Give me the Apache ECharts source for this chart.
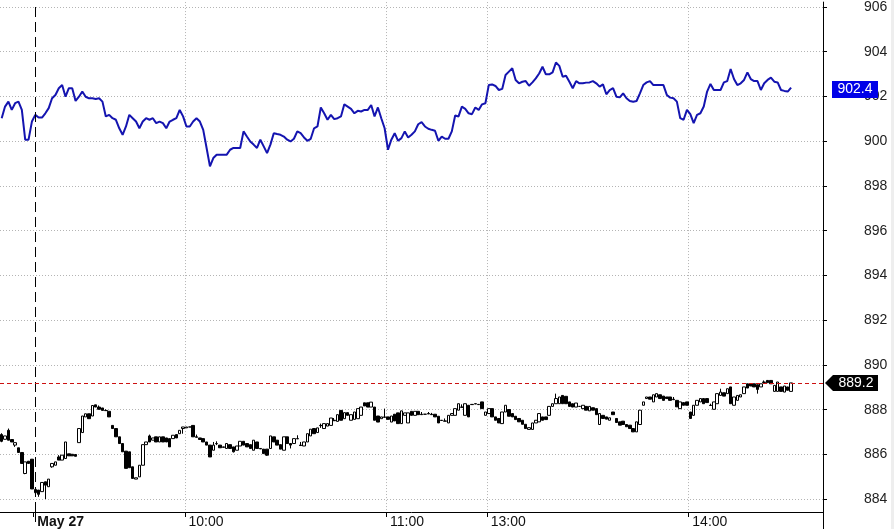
<!DOCTYPE html>
<html><head><meta charset="utf-8">
<script src="https://cdn.jsdelivr.net/npm/echarts@6/dist/echarts.min.js"></script>
<style>html,body{margin:0;padding:0;background:#fff}#c{width:894px;height:529px}</style>
</head><body><div id="c"></div><script>
// ---- data ----
const sessions = [['05-26','15:05','15:15'],['05-27','09:15','11:30'],['05-27','13:00','14:40']];
const tickLabels = {'05-27 09:15':'May 27','05-27 10:00':'10:00','05-27 11:00':'11:00','05-27 13:00':'13:00','05-27 14:00':'14:00'};
const gridTimes = ['05-27 10:00','05-27 11:00','05-27 13:00','05-27 14:00'];
const dayStart = '05-27 09:15';
const yTicks = [884,886,888,890,892,894,896,898,900,902,904,906];

const blueLine = [
901.03,901.55,901.77,901.40,901.70,901.77,901.40,900.07,900.07,900.88,
901.18,901.06,901.06,901.25,901.48,901.92,902.07,902.37,902.51,901.99,
902.37,902.37,901.80,901.99,902.22,901.99,901.92,901.92,901.89,901.92,
901.77,901.11,901.18,901.03,900.96,900.58,900.29,900.66,901.18,901.03,
900.88,900.58,900.88,901.03,900.96,901.03,900.81,900.88,900.81,900.58,
900.88,900.96,901.03,901.40,901.11,900.66,900.66,900.88,901.03,900.88,
900.51,899.70,898.88,899.25,899.40,899.40,899.40,899.40,899.62,899.70,
899.70,899.70,900.44,900.21,899.99,899.85,899.70,900.07,899.77,899.47,
899.85,900.36,900.32,900.29,900.21,900.07,899.99,900.11,900.44,900.36,
900.17,900.02,900.11,900.58,900.66,901.51,901.25,900.96,901.18,900.99,
901.03,901.11,901.65,901.55,901.45,901.25,901.36,901.33,901.40,901.40,
901.62,901.11,901.51,901.03,900.58,899.62,900.07,900.36,900.02,900.14,
900.44,900.17,900.29,900.44,900.76,900.85,900.66,900.56,900.51,900.47,
900.02,900.21,900.11,900.11,900.44,901.15,901.11,901.55,901.45,901.25,
901.21,901.51,901.40,901.65,901.70,902.51,902.54,902.47,902.29,902.34,
902.96,903.11,903.26,902.74,902.59,902.66,902.69,902.48,902.63,902.81,
903.03,903.33,902.99,902.99,903.08,903.52,903.37,902.88,902.93,902.66,
902.37,902.69,902.59,902.59,902.62,902.63,902.69,902.59,902.44,902.54,
902.10,902.29,902.37,901.99,901.96,902.14,901.92,901.80,901.77,901.80,
902.14,902.51,902.63,902.69,902.51,902.51,902.51,902.51,902.07,901.95,
901.92,901.77,901.03,900.96,901.40,901.21,900.81,901.18,901.25,901.55,
902.22,902.56,902.29,902.29,902.29,902.63,902.69,903.23,902.78,902.51,
902.59,902.74,903.08,902.78,902.69,902.69,902.29,902.59,902.74,902.84,
902.66,902.63,902.29,902.25,902.22,902.40
];

// candles: [open, close] or [open, close, low, high]
const candles = [
[886.89,886.59,886.55,886.95],[886.68,886.83],[887.08,886.64,886.64,887.16],[886.67,886.56],[886.42,886.53,886.34,886.53],
[886.30,886.09],[886.09,885.60],[885.15,885.67,885.12,885.67],[885.70,885.60],[885.79,884.46],
[884.29,884.44,884.19,884.44],[884.41,884.22,884.11,884.41],[884.34,884.75],[884.78,884.63,884.01,884.78],[884.56,884.90],
[885.45,885.60,885.41,885.60],[885.52,885.67],[885.89,885.75,885.75,885.97],[885.75,885.97],[885.82,886.56],
[886.03,885.94],[886.01,885.94],[886.00,885.92],[886.53,887.16],[886.98,887.72],
[887.68,887.82],[887.82,887.60],[887.72,888.19],[888.22,888.12],[888.12,888.02,888.02,888.19],
[888.08,887.97],[887.97,887.96,887.96,888.02],[887.93,887.68],[887.30,887.16],[887.16,886.79],
[886.79,886.49],[886.49,886.12],[886.15,885.38],[886.12,885.41],[885.45,884.93],
[884.90,884.96],[885.00,885.52],[885.52,886.44],[886.44,886.56],[886.83,886.56,886.56,886.89],
[886.64,886.74],[886.79,886.56],[886.56,886.79],[886.79,886.56],[886.74,886.56],
[886.71,886.34],[886.71,886.86],[886.89,886.74],[886.93,887.08],[887.16,887.23,886.93,887.23],
[887.19,887.23],[887.23,887.23],[887.30,886.79],[886.79,886.77,886.77,886.89],[886.74,886.67],
[886.71,886.56],[886.56,886.42],[886.42,885.89],[886.19,886.42,886.19,886.56],[886.49,886.48,886.42,886.59],
[886.42,886.30],[886.34,886.32],[886.27,886.49],[886.44,886.27],[886.34,886.12,886.09,886.34],
[886.19,886.38],[886.38,886.59],[886.59,886.42],[886.49,886.34],[886.44,886.27],
[886.19,886.64],[886.56,886.27],[886.27,886.25],[886.24,886.04],[886.24,885.97,885.94,886.24],
[886.27,886.83],[886.79,886.56],[886.64,886.42],[886.44,886.24],[886.19,886.79],
[886.79,886.49],[886.49,886.42,886.27,886.49],[886.49,886.71],[886.71,886.70,886.70,886.86],[886.42,886.40,886.40,886.56],
[886.38,886.56],[886.56,886.93],[886.83,887.13],[887.16,886.93],[886.98,887.19],
[887.30,887.29,887.19,887.38],[887.16,887.38],[887.27,887.38],[887.30,887.63],[887.53,887.51,887.51,887.63],
[887.48,887.78],[887.97,887.53],[887.60,887.87],[887.87,887.75],[887.53,887.78],
[887.57,887.90],[887.60,888.05],[887.75,888.12],[888.31,888.17],[888.31,888.12],
[888.12,888.34],[888.12,887.53],[887.72,887.45],[887.60,887.68],[887.68,887.66,887.66,888.05],
[887.68,887.57],[887.45,887.72],[887.80,887.50],[887.86,887.38],[887.38,887.95],
[887.75,887.86],[887.41,887.86],[887.93,887.75],[887.75,887.93],[887.93,887.78],
[887.80,887.78,887.78,887.90],[887.80,887.80],[887.83,887.81,887.81,887.90],[887.80,887.78,887.78,887.86],[887.80,887.68],
[887.71,887.41],[887.53,887.52],[887.50,887.49,887.49,887.61],[887.41,887.75],[887.75,887.83],
[887.75,888.05],[887.98,888.27],[888.12,888.11,888.11,888.24],[887.75,888.27],[888.20,887.68],
[888.24,888.23],[888.27,888.26],[888.24,888.23],[888.35,888.05],[887.75,887.90],
[887.83,888.05],[888.05,887.68],[887.68,887.53],[887.61,887.41],[887.38,887.90],
[887.90,888.20],[888.01,887.71],[887.83,887.68],[887.71,887.56],[887.61,887.46],
[887.53,887.35],[887.35,887.16],[887.12,887.20],[887.12,887.41],[887.41,887.53],
[887.46,887.83],[887.68,887.53],[887.68,887.56],[887.75,888.15],[888.15,888.27],
[888.27,888.50,888.27,888.72],[888.27,888.57],[888.64,888.27],[888.60,888.27],[888.35,888.15],
[888.27,888.12],[888.12,888.30],[888.15,888.15],[888.05,888.20],[888.15,887.98],
[887.95,888.15],[888.09,887.98],[888.05,887.78],[887.34,887.83],[887.75,887.61],
[887.68,887.58],[887.53,887.64],[887.90,887.78],[887.61,887.43],[887.46,887.31],
[887.49,887.34],[887.34,887.24],[887.31,887.16],[887.16,887.01],[887.01,887.46],
[887.34,887.98],[888.20,888.35],[888.50,888.57],[888.57,888.47],[888.35,888.67],
[888.57,888.72],[888.67,888.50],[888.61,888.42],[888.57,888.50],[888.57,888.42],
[888.47,888.45,888.45,888.57],[888.42,888.13],[888.05,888.35],[888.32,888.20],[888.35,888.20],
[887.90,887.61],[887.75,888.20],[888.20,888.42],[888.35,888.50],[888.50,888.27],
[888.50,888.32],[888.20,888.19,888.19,888.27],[888.02,888.35],[888.27,888.72],[888.64,888.79,888.64,888.94],
[888.76,888.61],[888.72,888.94],[889.02,888.27],[888.20,888.57],[888.42,888.64],
[888.57,888.67],[888.72,889.02],[889.16,888.97],[889.16,889.06],[889.16,889.02],
[889.12,888.91,888.72,889.12],[889.02,889.16],[889.24,889.22,889.22,889.31],[889.31,889.21],[889.31,889.16],
[888.82,889.09],[888.82,889.24],[889.02,888.82],[888.79,889.06],[889.02,888.87],
[888.82,889.20]
];

// ---- build ----
function minutes(day, from, to){
  const out=[]; let [h,m]=from.split(':').map(Number); const [th,tm]=to.split(':').map(Number);
  while(h*60+m < th*60+tm){ out.push(day+' '+String(h).padStart(2,'0')+':'+String(m).padStart(2,'0')); m++; if(m===60){m=0;h++;} }
  return out;
}
const categories = [].concat(...sessions.map(s=>minutes(s[0],s[1],s[2])));
const candleData = candles.map(r => {
  const o=r[0], c=r[1];
  const l = r.length>2 ? r[2] : Math.min(o,c);
  const h = r.length>3 ? r[3] : Math.max(o,c);
  return [o,c,l,h];
});
const lastClose = candles[candles.length-1][1];
const lastBlue = blueLine[blueLine.length-1];

const FONT = '"Liberation Sans", Arial, sans-serif';
const GRID = {left:0, right:71, top:0, bottom:17};
const chart = echarts.init(document.getElementById('c'), null, {renderer:'canvas'});
const dotted = {type:[1,2], color:'#b4b4b4', width:1};

chart.setOption({
  animation:false,
  backgroundColor:'#ffffff',
  grid:GRID,
  xAxis:{
    type:'category', data:categories, boundaryGap:true,
    axisLine:{show:true, lineStyle:{color:'#000', width:1}},
    axisTick:{show:true, length:5, interval:(i,v)=> (v in tickLabels), lineStyle:{color:'#000'}},
    axisLabel:{
      interval:(i,v)=> (v in tickLabels), hideOverlap:false,
      formatter:(v)=> v===dayStart ? '{b|'+tickLabels[v]+'}' : (tickLabels[v]||''),
      align:'left', margin:3, padding:[0,0,0,2], fontSize:14, color:'#111', fontFamily:FONT,
      rich:{b:{fontWeight:'bold', fontSize:14, color:'#111', fontFamily:FONT}}
    },
    splitLine:{show:true, interval:(i,v)=> gridTimes.indexOf(v)>=0, lineStyle:dotted}
  },
  yAxis:{
    type:'value', position:'right', min:883.43, max:906.22, scale:true,
    axisLine:{show:true, lineStyle:{color:'#000', width:1}},
    axisTick:{show:true, length:4, customValues:yTicks, lineStyle:{color:'#000'}},
    axisLabel:{customValues:yTicks, margin:41, fontSize:14, color:'#222', fontFamily:FONT},
    splitLine:{show:true, lineStyle:dotted}
  },
  series:[
    {
      type:'candlestick', data:candleData, barWidth:3,
      itemStyle:{color:'#ffffff', color0:'#000000', borderColor:'#000000', borderColor0:'#000000', borderWidth:1},
      z:3
    },
    {
      type:'line', data:blueLine, symbol:'none', showSymbol:false,
      lineStyle:{color:'#1414b0', width:2}, z:4,
      markLine:{silent:true, symbol:['none','none'], label:{show:false},
        data:[
          {xAxis:dayStart, lineStyle:{color:'#000000', type:[10,5], width:1, opacity:1}},
          {yAxis:lastClose, lineStyle:{color:'#cc1111', type:[4,3], width:1, opacity:1}}
        ]}
    }
  ]
});

// price tags on the right axis, positioned through the axis scale
const axisX = 894 - GRID.right;
const yb = chart.convertToPixel({yAxisIndex:0}, lastBlue);
const yk = chart.convertToPixel({yAxisIndex:0}, lastClose);
const xd = chart.convertToPixel({xAxisIndex:0}, dayStart);
chart.setOption({graphic:[
  {type:'rect', shape:{x:891, y:0, width:3, height:529}, style:{fill:'#eeeeee'}, z:1},
  {type:'line', shape:{x1:axisX+0.5, y1:529-GRID.bottom, x2:axisX+0.5, y2:529}, style:{stroke:'#000', lineWidth:1}, z:10},
  {type:'line', shape:{x1:Math.round(xd)+0.5, y1:529-GRID.bottom, x2:Math.round(xd)+0.5, y2:527}, style:{stroke:'#000', lineWidth:1, lineDash:[10,5]}, z:10},
  {type:'rect', shape:{x:axisX+9, y:Math.round(yb)-7, width:46, height:17}, style:{fill:'#0000e8'}, z:20},
  {type:'text', x:axisX+32, y:Math.round(yb)+1.5, style:{text:lastBlue.toFixed(1), fill:'#fff', font:'14px '+FONT, align:'center', verticalAlign:'middle'}, z:21},
  {type:'polygon', shape:{points:[[axisX+2,yk],[axisX+10,yk-8],[axisX+55,yk-8],[axisX+55,yk+8],[axisX+10,yk+8]]}, style:{fill:'#000'}, z:20},
  {type:'text', x:axisX+33, y:yk+0.5, style:{text:lastClose.toFixed(1), fill:'#fff', font:'14px '+FONT, align:'center', verticalAlign:'middle'}, z:21}
]});
</script></body></html>
